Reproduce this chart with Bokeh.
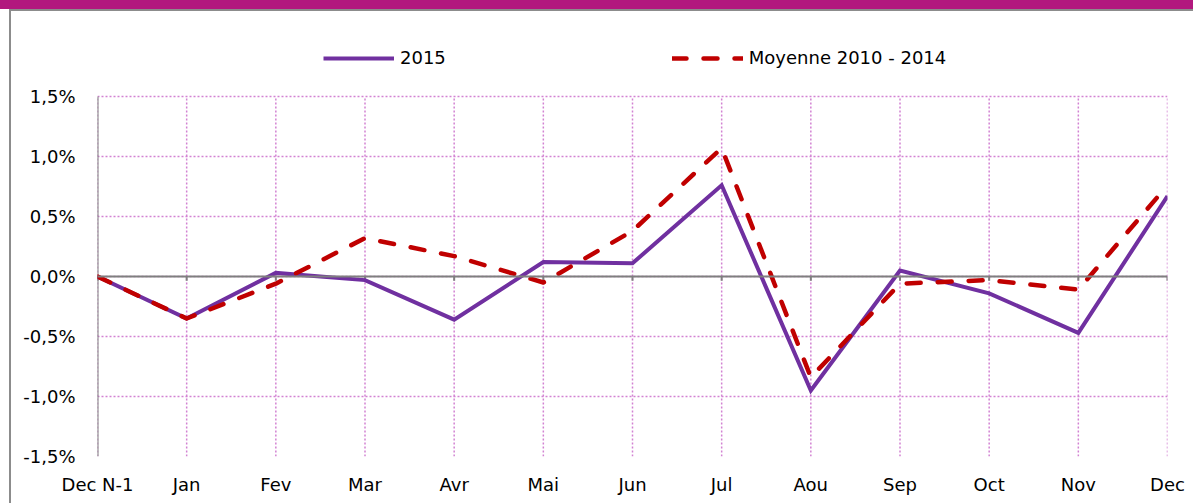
from bokeh.plotting import figure
from bokeh.models import FixedTicker, Legend, LegendItem, Span, Range1d, ColumnDataSource
from bokeh.embed import file_html
from bokeh.resources import INLINE

months = ["Dec N-1", "Jan", "Fev", "Mar", "Avr", "Mai", "Jun", "Jul", "Aou", "Sep", "Oct", "Nov", "Dec"]
serie_2015 = [0.0, -0.35, 0.03, -0.03, -0.36, 0.12, 0.11, 0.76, -0.95, 0.05, -0.14, -0.47, 0.67]
moyenne_2010_2014 = [0.0, -0.35, -0.06, 0.32, 0.17, -0.05, 0.38, 1.07, -0.84, -0.06, -0.03, -0.11, 0.76]
y_ticks = [-1.5, -1.0, -0.5, 0.0, 0.5, 1.0, 1.5]
y_tick_labels = ["-1,5%", "-1,0%", "-0,5%", "0,0%", "0,5%", "1,0%", "1,5%"]

FONT = "DejaVu Sans"
FS = "18px"
GRID = "#D282D2"
W, H = 1193, 503
HEADROOM = 0.55  # extra range above the plot area, used for the legend

xs = list(range(len(months)))
src = ColumnDataSource(dict(x=xs, a=serie_2015, b=moyenne_2010_2014))

p = figure(width=W, height=H, output_backend="svg", toolbar_location=None,
           x_range=Range1d(0, len(months) - 1),
           y_range=Range1d(y_ticks[0], y_ticks[-1] + HEADROOM),
           min_border_left=97, min_border_right=26, min_border_top=30, min_border_bottom=47)
p.outline_line_color = None
p.background_fill_alpha = 0
p.border_fill_alpha = 0
p.styles = {
    "background": ("linear-gradient(#B2187E, #B2187E) 0px 0px / 100% 9px no-repeat, "
                   "linear-gradient(#8C8C8C, #8C8C8C) 9px 9px / 100% 2px no-repeat, "
                   "linear-gradient(#8C8C8C, #8C8C8C) 9px 9px / 2px 100% no-repeat, white")
}

# axes
p.xaxis.ticker = FixedTicker(ticks=xs)
p.xaxis.major_label_overrides = {i: m for i, m in enumerate(months)}
p.xaxis.axis_line_color = None
p.xaxis.major_tick_line_color = None
p.xaxis.minor_tick_line_color = None
p.xaxis.major_label_standoff = 11
p.xaxis.major_label_text_font = FONT
p.xaxis.major_label_text_font_size = FS
p.xaxis.major_label_text_color = "black"

p.yaxis.ticker = FixedTicker(ticks=y_ticks)
p.yaxis.major_label_overrides = {v: l for v, l in zip(y_ticks, y_tick_labels)}
p.yaxis.axis_line_color = None
p.yaxis.major_tick_line_color = None
p.yaxis.minor_tick_line_color = None
p.yaxis.major_label_standoff = 16
p.yaxis.major_label_text_font = FONT
p.yaxis.major_label_text_font_size = FS
p.yaxis.major_label_text_color = "black"

# grids (dotted, pink)
p.xgrid.visible = False
p.ygrid.ticker = FixedTicker(ticks=y_ticks)
p.ygrid.grid_line_color = GRID
p.ygrid.grid_line_dash = "2 2"
p.ygrid.grid_line_width = 1.5
p.segment(x0=xs, y0=[y_ticks[0]] * len(xs), x1=xs, y1=[y_ticks[-1]] * len(xs),
          line_color=GRID, line_dash="2 2", line_width=1.5)

# y axis line and zero line with tick marks
p.segment(x0=[xs[0]], y0=[y_ticks[0]], x1=[xs[0]], y1=[y_ticks[-1]], line_color="#808080", line_width=2)
p.add_layout(Span(location=0, dimension="width", line_color="#7F7F7F", line_width=2))
p.segment(x0="x", y0=0, x1="x", y1=-0.035, source=src, line_color="#7F7F7F", line_width=2)

r1 = p.line("x", "a", source=src, line_color="#7030A0", line_width=4, line_join="miter")
r2 = p.line("x", "b", source=src, line_color="#C00000", line_width=4.5,
            line_dash="14 17", line_cap="round", line_join="round")

legend = Legend(items=[LegendItem(label="2015", renderers=[r1]),
                       LegendItem(label="Moyenne 2010 - 2014", renderers=[r2])],
                orientation="horizontal", location=(226, 388),
                glyph_width=71, glyph_height=20, label_standoff=6, spacing=226,
                padding=0, margin=0, border_line_alpha=0, background_fill_alpha=0,
                label_text_font=FONT, label_text_font_size=FS, label_text_color="black")
p.add_layout(legend)

open("out.html", "w").write(file_html(p, INLINE))
